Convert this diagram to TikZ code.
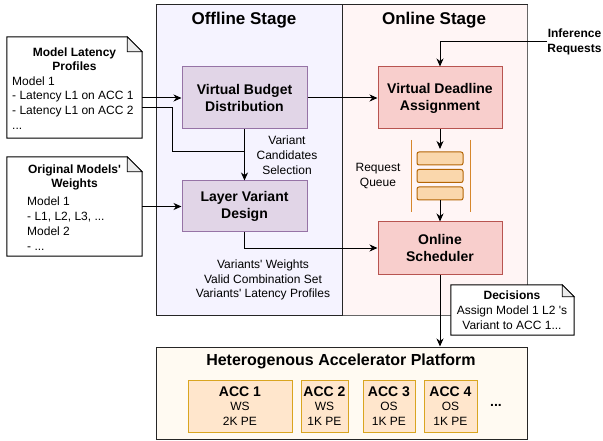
\documentclass[tikz,border=0pt]{standalone}
\usepackage{fontspec}
\setmainfont{Liberation Sans}[Ligatures=TeXOff]
\usetikzlibrary{arrows.meta,calc}

\definecolor{offfill}{RGB}{245,243,255}
\definecolor{onfill}{RGB}{255,245,245}
\definecolor{platfill}{RGB}{255,250,242}
\definecolor{purfill}{HTML}{E1D5E7}
\definecolor{purdraw}{HTML}{9673A6}
\definecolor{redfill}{HTML}{F8CECC}
\definecolor{reddraw}{HTML}{B85450}
\definecolor{qfill}{HTML}{FAD7AC}
\definecolor{qdraw}{HTML}{B46504}
\definecolor{qline}{HTML}{D6862B}
\definecolor{accfill}{HTML}{FFE6CC}
\definecolor{accdraw}{HTML}{D9A520}

\newcommand\fsz[2]{\fontsize{#1}{#2}\selectfont}
% folded-corner note outline around a named node
\newcommand\foldnote[2]{%
  \draw[line width=1pt, fill=white] (#1.north west) -- ([xshift=-#2]#1.north east)
    -- ([yshift=-#2]#1.north east) -- (#1.south east) -- (#1.south west) -- cycle;
  \draw[line width=0.8pt, fill=black!8] ([xshift=-#2]#1.north east)
    -- ([xshift=-#2,yshift=-#2]#1.north east) -- ([yshift=-#2]#1.north east) -- cycle;}

\begin{document}
\begin{tikzpicture}[x=1pt,y=-1pt,
  panel/.style={draw=#1, line width=1pt, minimum height=310pt, inner sep=0pt},
  procP/.style={draw=purdraw, fill=purfill, line width=1pt, align=center,
    font=\bfseries\fsz{14}{17}, inner sep=0pt},
  procR/.style={draw=reddraw, fill=redfill, line width=1pt, align=center,
    font=\bfseries\fsz{14}{17}, inner sep=0pt},
  qitem/.style={draw=qdraw, fill=qfill, line width=1pt, rounded corners=2pt,
    minimum width=46pt, minimum height=13pt, inner sep=0pt},
  accbox/.style={draw=accdraw, fill=accfill, line width=1pt, align=center,
    minimum height=52pt, inner sep=0pt, font=\fsz{12}{14.5}},
  notebox/.style={inner sep=0pt},
  txt/.style={inner sep=0pt, font=\fsz{12}{14.8}, align=center},
  btxt/.style={inner sep=0pt, font=\bfseries\fsz{12}{14.5}, align=center},
  conn/.style={line width=1pt},
  arr/.style={line width=1pt, -{Stealth[length=8pt,width=7pt,inset=2.5pt]}}]

\useasboundingbox (0,0) rectangle (603,441);

% stage panels
\node[panel=black!85, fill=offfill, minimum width=186pt] (offp) at (249,160) {};
\node[panel=black!60, fill=onfill, minimum width=185pt] (onp) at (434.5,160) {};
\draw[line width=1pt, black!85] (offp.north east) -- (offp.south east);
\draw[line width=1pt, black!85] (offp.north west) -- (onp.north east);
\node[inner sep=0pt, font=\bfseries\fsz{17}{20}] (offt) at (244,20) {Offline Stage};
\node[inner sep=0pt, font=\bfseries\fsz{17}{20}] (ont) at (434,20) {Online Stage};

% input notes
\node[notebox, minimum width=135pt, minimum height=101pt] (mlp) at (74.5,87.5) {};
\foldnote{mlp}{15pt}
\node[btxt] (mlpt) at (74.5,59) {Model Latency\\Profiles};
\node[txt, align=left, anchor=west] (mlpb) at (12,103) {Model 1\\- Latency L1 on ACC 1\\- Latency L1 on ACC 2\\...};

\node[notebox, minimum width=135pt, minimum height=99pt] (ow) at (74.5,206.5) {};
\foldnote{ow}{15pt}
\node[btxt] (owt) at (74.5,177.5) {Original Models'\\Weights};
\node[txt, align=left, anchor=west] (owb) at (27,223.5) {Model 1\\- L1, L2, L3, ...\\Model 2\\- ...};

% offline blocks
\node[procP, minimum width=125pt, minimum height=62pt] (vbd) at (244.5,98) {Virtual Budget\\Distribution};
\node[procP, minimum width=125pt, minimum height=51pt] (lvd) at (244.5,206.5) {Layer Variant\\Design};
\node[txt] (vcs) at (287,155) {Variant\\Candidates\\Selection};
\node[txt] (vout) at (263,280) {Variants' Weights\\Valid Combination Set\\Variants' Latency Profiles};

% online blocks
\node[procR, minimum width=124pt, minimum height=62pt] (vda) at (440,98) {Virtual Deadline\\Assignment};
\node[procR, minimum width=124pt, minimum height=52pt] (sched) at (440,248) {Online\\Scheduler};
\node[btxt, font=\bfseries\fsz{12}{15}] (ir) at (574.5,41.5) {Inference\\Requests};

% request queue
\draw[qline, line width=1pt] (411,140) -- (411,212);
\draw[qline, line width=1pt] (470,140) -- (470,212);
\node[qitem] (q1) at (440,158.5) {};
\node[qitem] (q2) at (440,176) {};
\node[qitem] (q3) at (440,193.5) {};
\node[txt] (rq) at (378,176) {Request\\Queue};

% decisions note
\node[notebox, minimum width=123pt, minimum height=50pt] (dec) at (512.5,310) {};
\foldnote{dec}{12pt}
\node[txt] (dect) at (512,310) {\textbf{Decisions}\\Assign Model 1 L2 's\\Variant to ACC 1...};

% accelerator platform
\node[draw=black!85, fill=platfill, line width=1pt, minimum width=371pt, minimum height=92pt, inner sep=0pt] (plat) at (341.5,393) {};
\node[inner sep=0pt, font=\bfseries\fsz{16}{19}] (platt) at (341,361) {Heterogenous Accelerator Platform};
\node[accbox, minimum width=104pt] (acc1) at (240,406) {{\bfseries\fsz{14}{16}ACC 1}\\WS\\2K PE};
\node[accbox, minimum width=47pt] (acc2) at (324.5,406) {{\bfseries\fsz{14}{16}ACC 2}\\WS\\1K PE};
\node[accbox, minimum width=52pt] (acc3) at (389,406) {{\bfseries\fsz{14}{16}ACC 3}\\OS\\1K PE};
\node[accbox, minimum width=53pt] (acc4) at (450.5,406) {{\bfseries\fsz{14}{16}ACC 4}\\OS\\1K PE};
\node[inner sep=0pt, font=\bfseries\fsz{14}{16}] (more) at (496,405) {...};

% connectors
\coordinate (join) at (vbd.south |- 0,152);
\draw[arr] (mlp.east |- vbd) -- (vbd.west);
\draw[conn] ([yshift=-20.5pt]mlp.east) -- ++(30,0) |- (join);
\draw[arr] (vbd.south) -- (lvd.north);
\draw[arr] (ow.east |- lvd) -- (lvd.west);
\draw[arr] (vbd.east) -- (vda.west);
\draw[arr] (lvd.south) |- (sched.west);
\draw[arr] (ir.west) -| (vda.north);
\draw[arr, shorten >=2.5pt] (vda.south) -- (q1.north);
\draw[arr] (q3.south) -- (sched.north);
\draw[arr] (sched.south) -- (sched.south |- plat.north);
\end{tikzpicture}
\end{document}
